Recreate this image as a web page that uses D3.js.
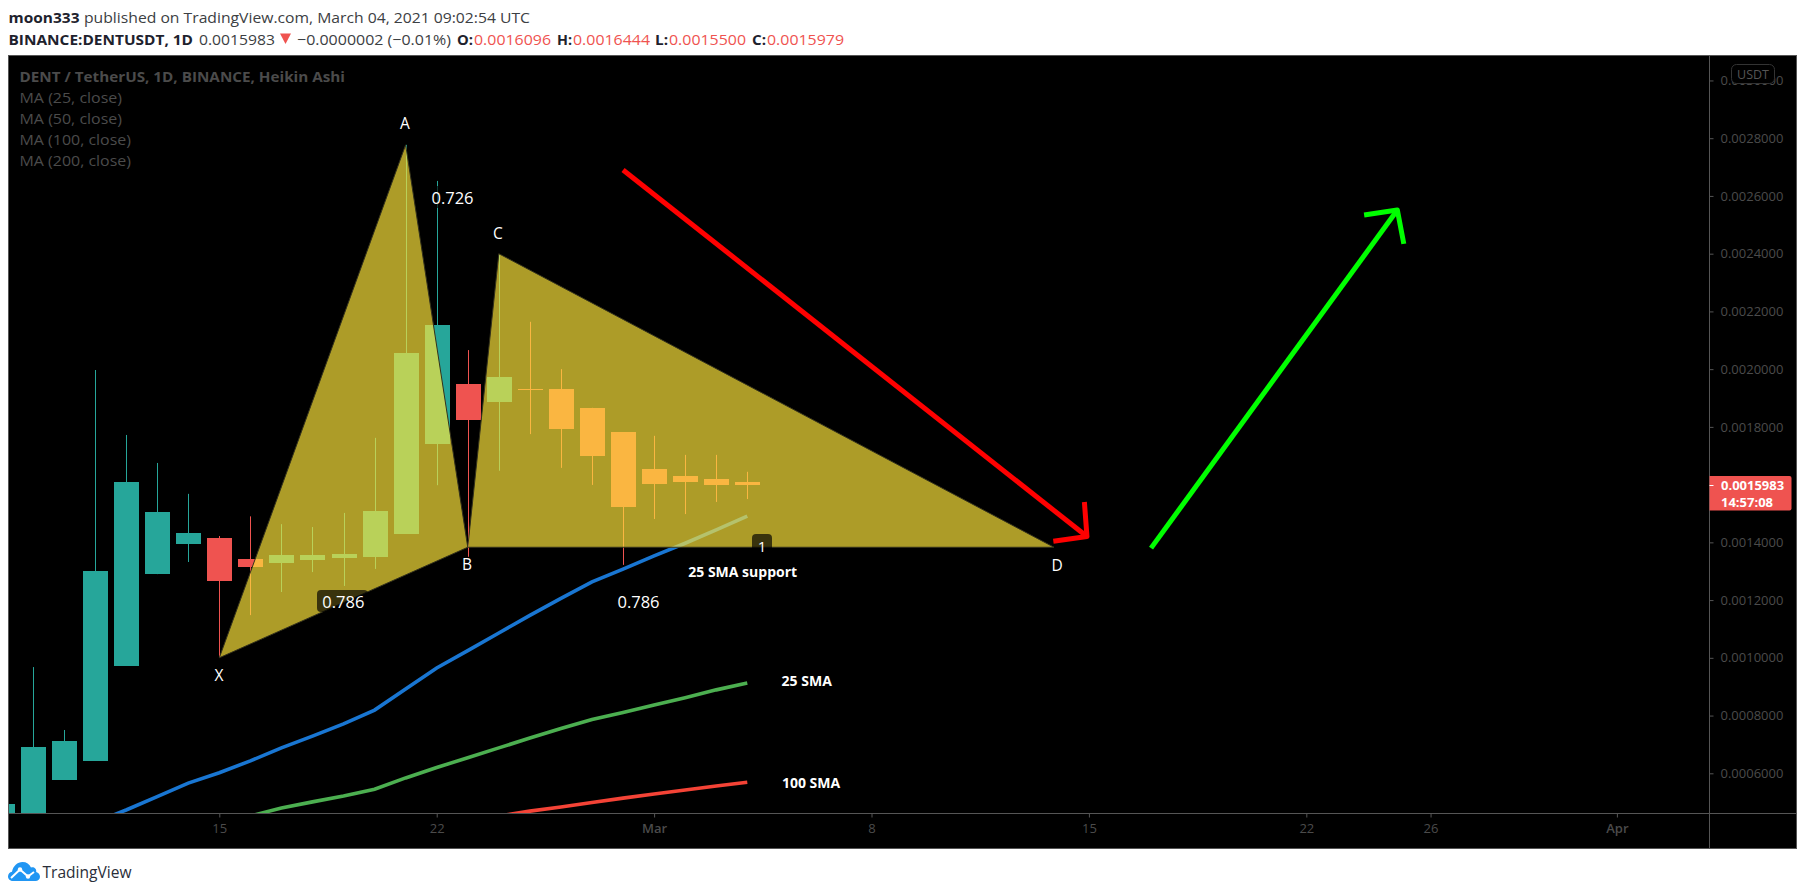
<!DOCTYPE html>
<html>
<head>
<meta charset="utf-8">
<title>BINANCE:DENTUSDT, 1D</title>
<script src="https://cdn.jsdelivr.net/npm/d3@7/dist/d3.min.js"></script>
<style>
html,body{margin:0;padding:0;background:#fff;overflow:hidden}
svg{display:block}
text{font-family:"Open Sans","Noto Sans",sans-serif}
</style>
</head>
<body>
<svg id="c" width="1805" height="895"></svg>
<script>
// ---------- data ----------
const dates = ["2021-02-08","2021-02-09","2021-02-10","2021-02-11","2021-02-12","2021-02-13","2021-02-14",
  "2021-02-15","2021-02-16","2021-02-17","2021-02-18","2021-02-19","2021-02-20","2021-02-21","2021-02-22",
  "2021-02-23","2021-02-24","2021-02-25","2021-02-26","2021-02-27","2021-02-28","2021-03-01","2021-03-02",
  "2021-03-03","2021-03-04"];
const opens  = [0.000400,0.000420,0.000577,0.000643,0.000972,0.001290,0.001394,0.001415,0.001342,0.001328,0.001339,0.001346,0.001349,0.001429,0.001741,0.001950,0.001886,0.001931,0.001931,0.001866,0.001782,0.001654,0.001630,0.001620,0.0016096];
const highs  = [0.000494,0.000968,0.000750,0.001997,0.001772,0.001675,0.001568,0.001422,0.001490,0.001463,0.001453,0.001502,0.001762,0.002777,0.002652,0.002066,0.002396,0.002164,0.002000,0.001866,0.001782,0.001769,0.001703,0.001703,0.0016444];
const lows   = [0.000400,0.000420,0.000577,0.000643,0.000972,0.001290,0.001332,0.001003,0.001148,0.001228,0.001297,0.001249,0.001308,0.001429,0.001598,0.001350,0.001648,0.001775,0.001658,0.001599,0.001322,0.001481,0.001498,0.001540,0.0015500];
const closes = [0.000494,0.000691,0.000712,0.001301,0.001609,0.001505,0.001432,0.001266,0.001315,0.001356,0.001356,0.001360,0.001509,0.002056,0.002153,0.001827,0.001973,0.001930,0.001793,0.001700,0.001523,0.001602,0.001609,0.001599,0.0015979];

const smaBlue  = [null,null,null,0.000430,0.000473,0.000519,0.000566,0.000602,0.000643,0.000688,0.000729,0.000771,0.000819,0.000892,0.000965,0.001025,0.001086,0.001147,0.001206,0.001263,0.001307,0.001353,0.001397,0.001443,0.001491];
const smaGreen = [null,null,null,null,null,null,null,0.000425,0.000452,0.000480,0.000501,0.000521,0.000545,0.000584,0.000620,0.000654,0.000688,0.000722,0.000755,0.000786,0.000811,0.000837,0.000862,0.000889,0.000913];
const smaRed   = [null,null,null,null,null,null,null,null,null,null,null,null,null,null,null,0.000435,0.000452,0.000469,0.000483,0.000499,0.000514,0.000528,0.000542,0.000556,0.000569];

// harmonic pattern points X A B C D
const patternNames  = ["X","A","B","C","D"];
const patternTimes  = ["2021-02-15","2021-02-21","2021-02-23","2021-02-24","2021-03-13T21:00"];
const patternPrices = [0.001000,0.002777,0.001383,0.002400,0.001383];

const redArrowTimes   = ["2021-02-28","2021-03-14T22:30","2021-03-14T20:30","2021-03-13T20:30"];
const redArrowPrices  = [0.002690,0.001420,0.001540,0.001404];
const greenArrowTimes = ["2021-03-17","2021-03-24T22:20","2021-03-23T20:40","2021-03-25T03:20"];
const greenArrowPrices= [0.001380,0.002551,0.002534,0.002434];

const priceTicks = [0.0030,0.0028,0.0026,0.0024,0.0022,0.0020,0.0018,0.0014,0.0012,0.0010,0.0008,0.0006];
const timeTicks  = ["2021-02-15","2021-02-22","2021-03-01","2021-03-08","2021-03-15","2021-03-22","2021-03-26","2021-04-01"];
const timeTickLabels = ["15","22","Mar","8","15","22","26","Apr"];
const lastPrice = 0.0015983;
const countdown = "14:57:08";

const legendLines = ["MA (25, close)","MA (50, close)","MA (100, close)","MA (200, close)"];

// ---------- layout ----------
const L=8.5,T=55.5,R=1796.5,B=848.5,AX=1709.5,PB=813.5;
const svg=d3.select("#c");
const parse=s=>new Date(s.length===10?s+"T00:00Z":s+"Z");
const x=d3.scaleUtc().domain([parse("2021-02-15"),parse("2021-04-01")]).range([219.3,1616.9]);
const y=d3.scaleLinear().domain([0.0006,0.0028]).range([773.3,138.2]);
const UP="#26a69a",DOWN="#ef5350",GRID="#555",MUTED="#4b4b4b";

svg.append("rect").attr("x",L).attr("y",T).attr("width",R-L).attr("height",B-T).attr("fill","#000").attr("stroke",GRID);

const defs=svg.append("defs");
defs.append("clipPath").attr("id","plot").append("rect").attr("x",L+.5).attr("y",T+.5).attr("width",AX-L-1).attr("height",PB-T-1);
const plot=svg.append("g").attr("clip-path","url(#plot)");

// candles
const idx=d3.range(dates.length);
const cg=plot.append("g");
cg.selectAll("line").data(idx).join("line")
  .attr("x1",i=>Math.round(x(parse(dates[i])))+.5).attr("x2",i=>Math.round(x(parse(dates[i])))+.5)
  .attr("y1",i=>y(highs[i])).attr("y2",i=>y(lows[i]))
  .attr("stroke",i=>closes[i]>=opens[i]?UP:DOWN).attr("stroke-width",1);
cg.selectAll("rect").data(idx).join("rect")
  .attr("x",i=>Math.round(x(parse(dates[i])))-12)
  .attr("width",25)
  .attr("y",i=>Math.round(y(Math.max(opens[i],closes[i]))))
  .attr("height",i=>Math.max(1,Math.round(y(Math.min(opens[i],closes[i]))-y(Math.max(opens[i],closes[i])))))
  .attr("fill",i=>closes[i]>=opens[i]?UP:DOWN);

// moving averages
const line=d3.line().defined(d=>d.v!=null).x(d=>x(d.t)).y(d=>y(d.v));
[[smaBlue,"#1976d2"],[smaGreen,"#4caf50"],[smaRed,"#f44336"]].forEach(([vals,col])=>{
  plot.append("path").datum(vals.map((v,i)=>({t:parse(dates[i]),v})))
    .attr("d",line).attr("fill","none").attr("stroke",col).attr("stroke-width",3.6);
});

// harmonic pattern
const pts=patternNames.map((n,i)=>({n,t:parse(patternTimes[i]),v:patternPrices[i]}));
const tri=d3.line().x(d=>x(d.t)).y(d=>y(d.v)).curve(d3.curveLinearClosed);
[[0,1,2],[2,3,4]].forEach(t=>{
  plot.append("path").attr("d",tri(t.map(i=>pts[i])))
    .attr("fill","rgba(255,230,59,0.68)").attr("stroke","#33311c").attr("stroke-width",1);
});

// arrows
function arrow(times,prices,col){
  const P=times.map((t,i)=>[x(parse(t)),y(prices[i])]);
  const l=d3.line();
  plot.append("path").attr("d",l([P[0],P[1]])).attr("stroke",col).attr("stroke-width",5).attr("fill","none");
  plot.append("path").attr("d",l([P[2],P[1],P[3]])).attr("stroke",col).attr("stroke-width",5).attr("fill","none").attr("stroke-linejoin","round");
}
arrow(redArrowTimes,redArrowPrices,"#ff0000");
arrow(greenArrowTimes,greenArrowPrices,"#00ff00");

// pattern labels
function label(txt,cx,cy,o={}){
  if(o.bg){ plot.append("rect").attr("x",o.bg[0]).attr("y",o.bg[1]).attr("width",o.bg[2]).attr("height",o.bg[3]).attr("rx",4).attr("fill","rgba(0,0,0,0.67)"); }
  plot.append("text").attr("x",cx).attr("y",cy).attr("text-anchor","middle").attr("dominant-baseline","central")
    .attr("fill","#fff").attr("font-size",o.size||15.5).attr("font-weight",o.weight||400).text(txt);
}
label("A",405,122.5); label("X",219,674.5); label("B",467,563.5); label("C",498,233); label("D",1057,565);
label("0.726",452.5,197,{bg:[426.5,186,51,22],size:16.5});
label("0.786",343.3,601.5,{bg:[317,590,51,22],size:16.5});
label("0.786",638.5,601.5,{size:16.5});
label("1",762,545.5,{bg:[752,534,20,22],size:15});
label("25 SMA support",742.7,571,{size:14,weight:700});
label("25 SMA",806.7,680,{size:14,weight:700});
label("100 SMA",811,782.5,{size:14,weight:700});

// legend
svg.append("text").attr("x",19.5).attr("y",75.5).attr("dominant-baseline","central").attr("fill",MUTED)
  .attr("font-size",15).attr("font-weight",700).attr("textLength",325.5).attr("lengthAdjust","spacingAndGlyphs").text("DENT / TetherUS, 1D, BINANCE, Heikin Ashi");
const legW=[102.5,102.5,111.5,111.5];
legendLines.forEach((s,i)=>svg.append("text").attr("x",19.5).attr("y",97+21*i).attr("dominant-baseline","central")
  .attr("fill",MUTED).attr("font-size",15).attr("textLength",legW[i]).attr("lengthAdjust","spacingAndGlyphs").text(s));

// axes
const yAxis=d3.axisRight(y).tickValues(priceTicks).tickFormat(d=>d.toFixed(7)).tickSize(4).tickPadding(7);
const yg=svg.append("g").attr("transform",`translate(${AX},0)`).call(yAxis);
yg.select(".domain").remove();
yg.selectAll("line").attr("stroke",GRID);
yg.selectAll("text").attr("fill",MUTED).attr("font-size",13).style("font-family",'"Open Sans",sans-serif');

const tTicks=timeTicks.map(parse);
const xAxis=d3.axisBottom(x).tickValues(tTicks).tickFormat((d,i)=>timeTickLabels[i]).tickSize(4).tickPadding(6);
const xg=svg.append("g").attr("transform",`translate(0,${PB})`).call(xAxis);
xg.select(".domain").remove();
xg.selectAll("line").attr("stroke",GRID);
xg.selectAll("text").attr("fill",MUTED).attr("font-size",13).style("font-family",'"Open Sans",sans-serif')
  .attr("font-weight",(d,i)=>/[A-Z]/.test(timeTickLabels[i])?600:400);

svg.append("line").attr("x1",AX).attr("x2",AX).attr("y1",T).attr("y2",B).attr("stroke",GRID);
svg.append("line").attr("x1",L).attr("x2",R).attr("y1",PB).attr("y2",PB).attr("stroke",GRID);

// currency badge
svg.append("rect").attr("x",1731.5).attr("y",64.5).attr("width",43).attr("height",19).attr("rx",5).attr("fill","#000").attr("stroke","#333");
svg.append("text").attr("x",1753).attr("y",74).attr("text-anchor","middle").attr("dominant-baseline","central").attr("fill",GRID).attr("font-size",12.5).text("USDT");

// last price tag
const lp=y(lastPrice);
svg.append("path").attr("d",`M${AX},${lp-9}H${1789.5}a2,2 0 0 1 2,2V${lp+23.5}a2,2 0 0 1 -2,2H${AX}Z`).attr("fill",DOWN);
svg.append("line").attr("x1",AX).attr("x2",AX+4).attr("y1",Math.round(lp)+.5).attr("y2",Math.round(lp)+.5).attr("stroke","#fff");
svg.append("text").attr("x",1721).attr("y",lp).attr("dominant-baseline","central").attr("fill","#fff").attr("font-size",13).attr("font-weight",700).text(lastPrice.toFixed(7));
svg.append("text").attr("x",1721).attr("y",lp+17).attr("dominant-baseline","central").attr("fill","#fff").attr("font-size",13).attr("font-weight",700).text(countdown);

// header
function head(txt,xp,w,yp,col,wt){
  svg.append("text").attr("x",xp).attr("y",yp).attr("dominant-baseline","central").attr("fill",col).attr("font-size",15)
    .attr("font-weight",wt||400).attr("textLength",w).attr("lengthAdjust","spacingAndGlyphs").text(txt);
}
const INK="#1e222d",SUB="#3c4043";
head("moon333",8.5,71,17,INK,700);
head("published on TradingView.com, March 04, 2021 09:02:54 UTC",84,446,17,SUB);
head("BINANCE:DENTUSDT, 1D",8.5,184.5,38.5,INK,700);
head("0.0015983",199,76,38.5,SUB);
svg.append("path").attr("d","M280,33.5H291L285.5,44Z").attr("fill",DOWN);
head("−0.0000002 (−0.01%)",297,154,38.5,SUB);
head("O:",457,16,38.5,INK,700); head("0.0016096",474,77,38.5,DOWN);
head("H:",557,15,38.5,INK,700); head("0.0016444",573,77,38.5,DOWN);
head("L:",655,13,38.5,INK,700); head("0.0015500",669,77,38.5,DOWN);
head("C:",752,14,38.5,INK,700); head("0.0015979",767,77,38.5,DOWN);

// footer logo
const logo=svg.append("g").attr("transform","translate(8,862)");
logo.append("path").attr("fill","#2196f3")
  .attr("d","M5,19C1.5,19 0,16.5 0,14.5C0,12 1.8,10.2 4,9.8C5,4 9.5,0 14.5,0C18.5,0 21.5,2 23,5.5C24,5 25,5 26,5.5C28,6.5 28.5,8.5 28.2,10C30.5,10.5 32,12.5 32,14.8C32,17.3 30,19 27.5,19Z");
logo.append("path").attr("fill","none").attr("stroke","#fff").attr("stroke-width",2).attr("stroke-linejoin","round")
  .attr("d","M3,16L12,7.5L20,14.5L26,10");
logo.selectAll("circle").data([[12,7.5],[20,14.5]]).join("circle").attr("cx",d=>d[0]).attr("cy",d=>d[1]).attr("r",2.2).attr("fill","#fff");
svg.append("text").attr("x",42.5).attr("y",871.5).attr("dominant-baseline","central").attr("fill","#2a2e39").attr("font-size",16.5)
  .attr("textLength",89).attr("lengthAdjust","spacingAndGlyphs").text("TradingView");
</script>
</body>
</html>
